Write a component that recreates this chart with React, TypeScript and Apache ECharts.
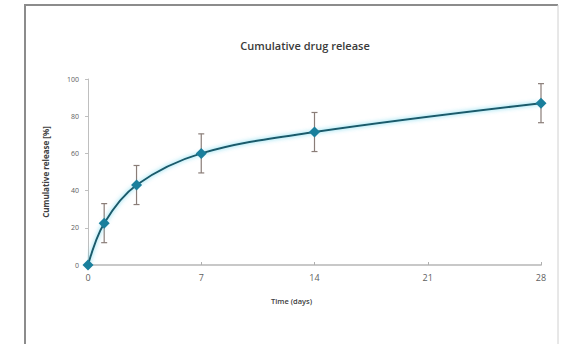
import React, { useEffect, useRef } from "react";
import * as echarts from "echarts";

const days = [0, 1, 3, 7, 14, 28];
const release = [0, 22.5, 43, 60, 71.5, 87];
const errors = [0, 10.5, 10.5, 10.5, 10.5, 10.5];
const xTicks = [0, 7, 14, 21, 28];
const yTicks = [0, 20, 40, 60, 80, 100];

export default function App() {
  const ref = useRef<HTMLDivElement>(null);
  useEffect(() => {
    if (!ref.current) return;
    const chart = echarts.init(ref.current, null, { renderer: "svg" });
    const lineData = days.map((d, i) => [d, release[i]]);
    const errData = days
      .map((d, i) => [d, release[i] - errors[i], release[i] + errors[i]])
      .filter((_, i) => errors[i] > 0);
    const font = "'Open Sans', 'Liberation Sans', sans-serif";
    chart.setOption({
      animation: false,
      backgroundColor: "#ffffff",
      title: {
        text: "Cumulative drug release",
        left: 300,
        top: 35,
        textAlign: "center",
        textStyle: { fontFamily: font, fontSize: 11, fontWeight: 600, color: "#3a3a3a" },
      },
      graphic: [
        {
          type: "line",
          shape: { x1: 24, y1: 5, x2: 558, y2: 5 },
          style: { stroke: "#8c8c8c", lineWidth: 2 },
          silent: true,
        },
        {
          type: "line",
          shape: { x1: 25, y1: 5, x2: 25, y2: 344 },
          style: { stroke: "#8c8c8c", lineWidth: 2 },
          silent: true,
        },
        {
          type: "line",
          shape: { x1: 558, y1: 5, x2: 558, y2: 344 },
          style: { stroke: "#d0d0d0", lineWidth: 1 },
          silent: true,
        },
      ],
      grid: { left: 88, right: 20, top: 79, bottom: 79, containLabel: false },
      xAxis: {
        type: "value",
        min: xTicks[0],
        max: xTicks[xTicks.length - 1],
        interval: 7,
        name: "Time (days)",
        nameLocation: "middle",
        nameGap: 32,
        nameTextStyle: { fontFamily: font, fontSize: 7.5, color: "#404040", fontWeight: 600, padding: [0, 46, 0, 0] },
        axisLine: { show: true, lineStyle: { color: "#c8c8c8", width: 2 } },
        axisTick: { show: true, inside: true, length: 3, lineStyle: { color: "#b0b0b0" } },
        axisLabel: { fontFamily: font, fontSize: 9, color: "#606060", margin: 8 },
        splitLine: { show: false },
      },
      yAxis: {
        type: "value",
        min: yTicks[0],
        max: yTicks[yTicks.length - 1],
        interval: 20,
        name: "Cumulative release [%]",
        nameLocation: "middle",
        nameGap: 39,
        nameTextStyle: { fontFamily: font, fontSize: 8, color: "#404040", fontWeight: "bold" },
        axisLine: { show: true, lineStyle: { color: "#bfbfbf", width: 1 } },
        axisTick: { show: true, length: 3, lineStyle: { color: "#bfbfbf" } },
        axisLabel: { fontFamily: font, fontSize: 7, color: "#606060", margin: 9 },
        splitLine: { show: false },
      },
      series: [
        {
          type: "custom",
          z: 1,
          data: errData,
          renderItem: (params: any, api: any) => {
            const x = api.value(0);
            const lo = api.coord([x, api.value(1)]);
            const hi = api.coord([x, api.value(2)]);
            const cap = 3;
            const style = { stroke: "#8a7d78", lineWidth: 1.2 };
            return {
              type: "group",
              children: [
                { type: "line", shape: { x1: lo[0], y1: lo[1], x2: hi[0], y2: hi[1] }, style },
                { type: "line", shape: { x1: hi[0] - cap, y1: hi[1], x2: hi[0] + cap, y2: hi[1] }, style },
                { type: "line", shape: { x1: lo[0] - cap, y1: lo[1], x2: lo[0] + cap, y2: lo[1] }, style },
              ],
            };
          },
        },
        {
          type: "line",
          z: 3,
          data: lineData,
          smooth: 0.35,
          symbol: "diamond",
          symbolSize: 11,
          itemStyle: { color: "#1a7f9c" },
          lineStyle: {
            color: "#1e5a6a",
            width: 2,
            shadowColor: "rgba(60,200,230,0.8)",
            shadowBlur: 4,
          },
        },
      ],
    });
    return () => chart.dispose();
  }, []);
  return (
    <div
      ref={ref}
      style={{ position: "absolute", left: 0, top: 0, width: 561, height: 344 }}
    />
  );
}
